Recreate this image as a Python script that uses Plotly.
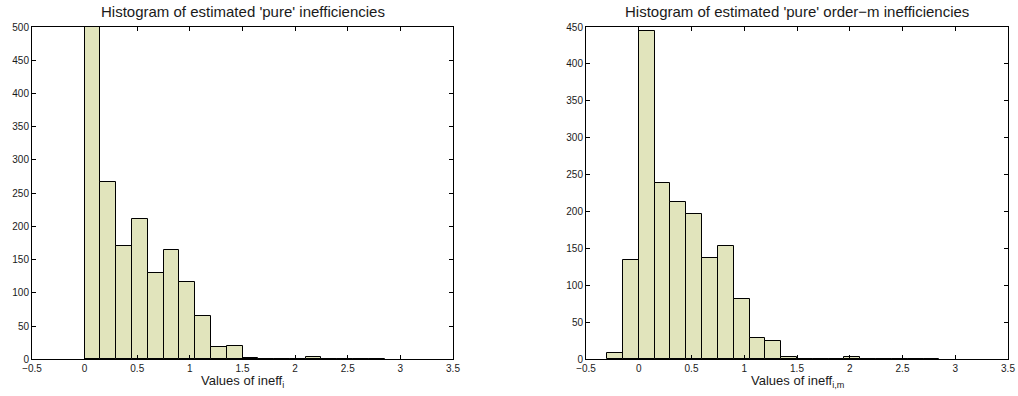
import plotly.graph_objects as go

# Bin left edges (width 0.15) and counts
bin_width = 0.15
left_edges = [0.0, 0.15, 0.30, 0.45, 0.60, 0.75, 0.90, 1.05, 1.20, 1.35,
              1.50, 1.65, 1.80, 1.95, 2.10, 2.25, 2.40, 2.55, 2.70]
left_counts = [520, 267, 170, 211, 130, 165, 116, 65, 18, 20,
               2, 1, 1, 1, 3, 0, 0, 1, 1]

right_edges = [-0.30, -0.15, 0.0, 0.15, 0.30, 0.45, 0.60, 0.75, 0.90, 1.05,
               1.20, 1.35, 1.50, 1.65, 1.80, 1.95, 2.10, 2.25, 2.40, 2.55, 2.70]
right_counts = [8, 134, 444, 239, 213, 197, 137, 153, 81, 29,
                25, 3, 1, 1, 1, 3, 1, 0, 0, 1, 1]

left_title = "Histogram of estimated 'pure' inefficiencies"
right_title = "Histogram of estimated 'pure' order\u2212m inefficiencies"
left_xlabel = "Values of ineff<sub>i</sub>"
right_xlabel = "Values of ineff<sub>i,m</sub>"

W, H = 1018, 396
FONT = "Liberation Sans, Arial, Helvetica, sans-serif"
BAR = "rgb(225,228,188)"
TXT = "#1a1a1a"

fig = go.Figure()
fig.add_trace(go.Bar(x=left_edges, y=left_counts, width=bin_width, offset=0,
                     marker=dict(color=BAR, line=dict(color="black", width=1)),
                     xaxis="x", yaxis="y", showlegend=False))
fig.add_trace(go.Bar(x=right_edges, y=right_counts, width=bin_width, offset=0,
                     marker=dict(color=BAR, line=dict(color="black", width=1)),
                     xaxis="x2", yaxis="y2", showlegend=False))

def px_x(p):
    return p / W

def px_y(p):
    return 1 - p / H

ydom = [px_y(359.3), px_y(27)]
axis_common = dict(showline=True, linecolor="black", linewidth=1, mirror="ticks",
                   ticks="inside", ticklen=4, tickcolor="black", showgrid=False,
                   zeroline=False, automargin=False,
                   tickfont=dict(size=10, color=TXT, family=FONT))

fig.update_layout(
    width=W, height=H,
    margin=dict(l=0, r=0, t=0, b=0, autoexpand=False),
    paper_bgcolor="white", plot_bgcolor="white",
    bargap=0,
    font=dict(family=FONT, color=TXT),
    xaxis=dict(domain=[px_x(32), px_x(453)], range=[-0.5, 3.5], dtick=0.5,
               anchor="y", **axis_common),
    yaxis=dict(domain=ydom, range=[0, 500], dtick=50, anchor="x", **axis_common),
    xaxis2=dict(domain=[px_x(586), px_x(1008)], range=[-0.5, 3.5], dtick=0.5,
                anchor="y2", **axis_common),
    yaxis2=dict(domain=ydom, range=[0, 450], dtick=50, anchor="x2", **axis_common),
    annotations=[
        dict(text=left_title, x=(px_x(32) + px_x(453)) / 2, y=px_y(12),
             xref="paper", yref="paper", showarrow=False, xanchor="center",
             yanchor="middle", font=dict(size=15, family=FONT, color=TXT)),
        dict(text=right_title, x=(px_x(586) + px_x(1008)) / 2, y=px_y(12),
             xref="paper", yref="paper", showarrow=False, xanchor="center",
             yanchor="middle", font=dict(size=15, family=FONT, color=TXT)),
        dict(text=left_xlabel, x=(px_x(32) + px_x(453)) / 2, y=px_y(381),
             xref="paper", yref="paper", showarrow=False, xanchor="center",
             yanchor="middle", font=dict(size=13, family=FONT, color=TXT)),
        dict(text=right_xlabel, x=(px_x(586) + px_x(1008)) / 2, y=px_y(381),
             xref="paper", yref="paper", showarrow=False, xanchor="center",
             yanchor="middle", font=dict(size=13, family=FONT, color=TXT)),
    ],
)

fig.write_html("out.html")
